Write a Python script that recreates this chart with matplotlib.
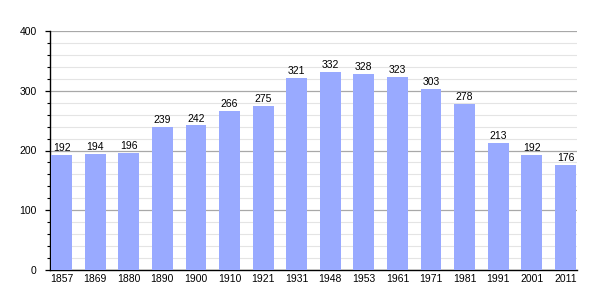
import matplotlib.pyplot as plt
from matplotlib.ticker import MultipleLocator

plt.rcParams['font.family'] = ['Liberation Sans', 'DejaVu Sans']

years = ['1857', '1869', '1880', '1890', '1900', '1910', '1921', '1931',
         '1948', '1953', '1961', '1971', '1981', '1991', '2001', '2011']
population = [192, 194, 196, 239, 242, 266, 275, 321,
              332, 328, 323, 303, 278, 213, 192, 176]

fig = plt.figure(figsize=(6.05, 3.0), dpi=100)
ax = fig.add_axes([50 / 605, 1 - 270 / 300, 527 / 605, 239 / 300])

x = list(range(len(years)))
ax.bar(x, population, width=0.62, color='#99aaff', zorder=3)

for xi, v in zip(x, population):
    ax.text(xi, v + 3, str(v), ha='center', va='bottom', fontsize=7.5, zorder=4)

ax.set_xlim(-0.345, len(years) - 1 + 0.345)
ax.set_ylim(0, 400)
ax.set_xticks(x)
ax.set_xticklabels(years)
ax.yaxis.set_major_locator(MultipleLocator(100))
ax.yaxis.set_minor_locator(MultipleLocator(20))

ax.grid(axis='y', which='major', color='#a8a8a8', linewidth=0.9, zorder=1)
ax.grid(axis='y', which='minor', color='#e4e4e4', linewidth=0.8, zorder=1)

ax.spines['top'].set_visible(False)
ax.spines['right'].set_visible(False)
ax.spines['left'].set_linewidth(1.0)
ax.spines['bottom'].set_linewidth(1.0)

ax.tick_params(axis='x', length=0, labelsize=7.5, pad=3)
ax.tick_params(axis='y', which='major', length=3.5, width=0.9, labelsize=7.5, pad=6)
ax.tick_params(axis='y', which='minor', length=2.5, width=0.8)

fig.savefig('out.png', dpi=100)
